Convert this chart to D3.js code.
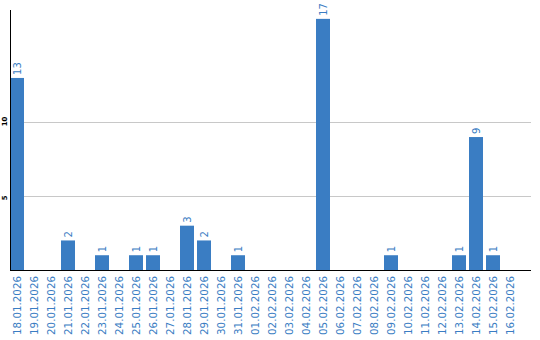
<!DOCTYPE html>
<html>
<head>
<meta charset="utf-8">
<script src="https://cdn.jsdelivr.net/npm/d3@7"></script>
<style>
  body { margin: 0; background: #fff; }
  svg { display: block; }
</style>
</head>
<body>
<div id="chart"></div>
<script>
const dates = ["18.01.2026","19.01.2026","20.01.2026","21.01.2026","22.01.2026","23.01.2026",
  "24.01.2026","25.01.2026","26.01.2026","27.01.2026","28.01.2026","29.01.2026","30.01.2026",
  "31.01.2026","01.02.2026","02.02.2026","03.02.2026","04.02.2026","05.02.2026","06.02.2026",
  "07.02.2026","08.02.2026","09.02.2026","10.02.2026","11.02.2026","12.02.2026","13.02.2026",
  "14.02.2026","15.02.2026","16.02.2026"];
const counts = [13,0,0,2,0,1,0,1,1,0,3,2,0,1,0,0,0,0,17,0,0,0,1,0,0,0,1,9,1,0];
const yTicks = [5, 10];

const width = 540, height = 340;
const plotLeft = 10, plotBottom = 270, plotTop = 10;
const blue = "#3a7dc3";

let svg = d3.select("#chart").append("svg")
    .attr("width", width)
    .attr("height", height);

let x = d3.scaleBand()
    .domain(dates)
    .range([plotLeft, plotLeft + 17 * dates.length - 3])
    .paddingInner(3 / 17)
    .paddingOuter(0);

let y = d3.scaleLinear()
    .domain([0, 17.6])
    .range([plotBottom, plotTop]);

// grid lines
svg.append("g").selectAll("line")
    .data(yTicks)
    .enter()
    .append("line")
    .attr("x1", plotLeft)
    .attr("x2", 531)
    .attr("y1", d => Math.round(y(d)) + 0.5)
    .attr("y2", d => Math.round(y(d)) + 0.5)
    .attr("stroke", "#c8c8c8");

// y tick labels
svg.append("g").selectAll("text")
    .data(yTicks)
    .enter()
    .append("text")
    .attr("transform", d => "translate(7," + (y(d) + 4) + ") rotate(-90)")
    .attr("font-family", "DejaVu Sans")
    .attr("font-size", "7px")
    .attr("font-weight", "bold")
    .text(d => d);

// bars
svg.append("g").selectAll("rect")
    .data(counts)
    .enter()
    .append("rect")
    .attr("x", (d, i) => x(dates[i]))
    .attr("width", x.bandwidth())
    .attr("y", d => y(d))
    .attr("height", d => plotBottom - y(d))
    .attr("fill", blue);

// value labels
svg.append("g").selectAll("text")
    .data(counts.map((d, i) => ({v: d, k: dates[i]})).filter(d => d.v > 0))
    .enter()
    .append("text")
    .attr("transform", d => "translate(" + (x(d.k) + x.bandwidth() / 2 + 4) + "," + (y(d.v) - 3) + ") rotate(-90)")
    .attr("font-family", "DejaVu Sans")
    .attr("font-size", "10px")
    .attr("fill", blue)
    .text(d => d.v);

// axes lines
svg.append("line")
    .attr("x1", plotLeft + 0.5).attr("x2", plotLeft + 0.5)
    .attr("y1", plotTop).attr("y2", plotBottom)
    .attr("stroke", "#000");
svg.append("line")
    .attr("x1", plotLeft).attr("x2", 531)
    .attr("y1", plotBottom + 0.5).attr("y2", plotBottom + 0.5)
    .attr("stroke", "#000");

// date labels
svg.append("g").selectAll("text")
    .data(dates)
    .enter()
    .append("text")
    .attr("transform", d => "translate(" + (x(d) + x.bandwidth() / 2 + 4) + "," + (plotBottom + 6) + ") rotate(-90)")
    .attr("text-anchor", "end")
    .attr("font-family", "DejaVu Sans")
    .attr("font-size", "10.3px")
    .attr("fill", blue)
    .text(d => d);
</script>
</body>
</html>
